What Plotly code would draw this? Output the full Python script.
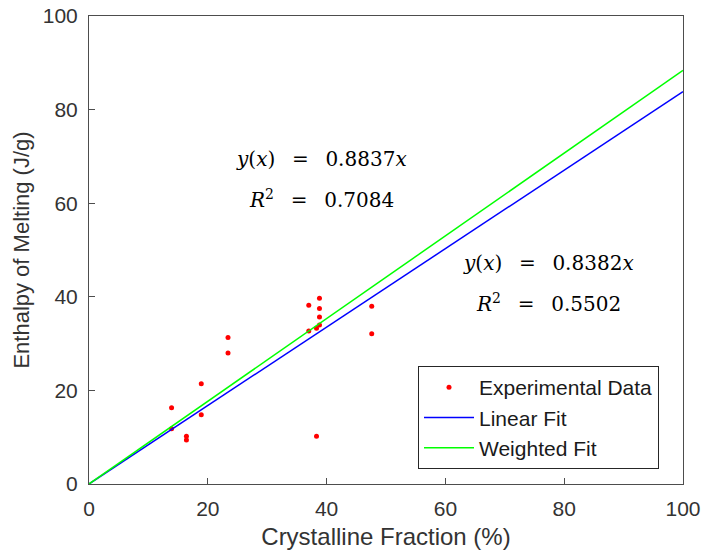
import plotly.graph_objects as go

# Experimental data
cryst_frac = [13.9, 13.9, 16.4, 16.4, 18.9, 18.9, 23.4, 23.4, 37.0, 37.0,
              38.8, 38.8, 38.8, 38.8, 38.3, 38.3, 47.6, 47.6]
enthalpy = [16.3, 11.8, 10.2, 9.4, 21.4, 14.8, 31.3, 28.0, 38.2, 32.7,
            39.7, 37.5, 35.7, 34.0, 33.3, 10.2, 38.0, 32.1]

# Fit slopes
linear_slope = 0.8382
weighted_slope = 0.8837
fit_x = [0, 100]

fig = go.Figure()
fig.add_trace(go.Scatter(x=cryst_frac, y=enthalpy, mode="markers",
                         marker=dict(color="#ff0000", size=5),
                         name="Experimental Data"))
fig.add_trace(go.Scatter(x=fit_x, y=[linear_slope * v for v in fit_x], mode="lines",
                         line=dict(color="#0000ff", width=1.5), name="Linear Fit"))
fig.add_trace(go.Scatter(x=fit_x, y=[weighted_slope * v for v in fit_x], mode="lines",
                         line=dict(color="#00ff00", width=1.5), name="Weighted Fit"))

serif = dict(family="DejaVu Serif", size=20, color="#000000")
sp = "&nbsp;&nbsp;\u2009"
yx = "<i>y</i>(<i>x</i>)"
ann = [
    (39.2, 69.4, f"{yx}{sp}={sp}0.8837<i>x</i>"),
    (39.2, 60.9, f"<i>R</i><sup>2</sup>{sp}={sp}0.7084"),
    (77.4, 47.2, f"{yx}{sp}={sp}0.8382<i>x</i>"),
    (77.4, 38.7, f"<i>R</i><sup>2</sup>{sp}={sp}0.5502"),
]
for x, y, t in ann:
    fig.add_annotation(x=x, y=y, text=t, showarrow=False, font=serif,
                       xanchor="center", yanchor="middle")

axis_common = dict(showgrid=False, zeroline=False, showline=True, mirror=True,
                   linecolor="#4d4d4d", linewidth=1, ticks="inside", ticklen=6,
                   tickcolor="#4d4d4d", automargin=False,
                   tickfont=dict(family="Liberation Sans", size=21, color="#333333"),
                   dtick=20, ticklabelstandoff=6)
fig.update_xaxes(range=[0, 100], title=dict(text="Crystalline Fraction (%)",
                 font=dict(family="Liberation Sans", size=24, color="#333333"), standoff=8),
                 **axis_common)
fig.update_yaxes(range=[0, 100], title=dict(text="Enthalpy of Melting (J/g)",
                 font=dict(family="Liberation Sans", size=22, color="#333333"), standoff=7),
                 **axis_common)

fig.update_layout(
    width=702, height=554,
    margin=dict(l=89, r=19, t=16, b=70, autoexpand=False),
    plot_bgcolor="white", paper_bgcolor="white",
    legend=dict(x=0.9596, y=0.032, xanchor="right", yanchor="bottom",
                bgcolor="white", bordercolor="#262626", borderwidth=1,
                font=dict(family="Liberation Sans", size=21, color="#1a1a1a"),
                tracegroupgap=0, itemwidth=50),
)

fig.write_html("out.html")
